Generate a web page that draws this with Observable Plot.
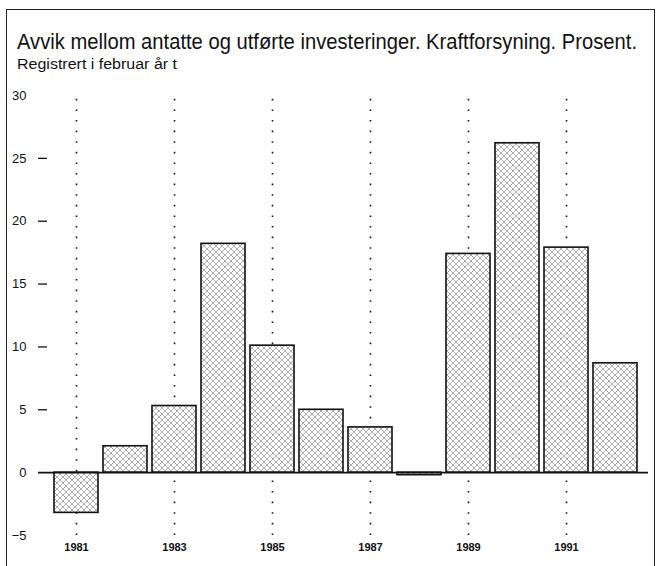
<!DOCTYPE html>
<html>
<head>
<meta charset="utf-8">
<script src="https://cdn.jsdelivr.net/npm/d3@7"></script>
<script src="https://cdn.jsdelivr.net/npm/@observablehq/plot@0.6"></script>
<style>
  html, body { margin: 0; padding: 0; background: #fff; }
  #wrap { position: relative; width: 661px; height: 566px; overflow: hidden; background: #fff; font-family: "Liberation Sans", Arial, Helvetica, sans-serif; color: #111; }
  #frame { position: absolute; left: 6px; top: 9px; width: 649px; height: 620px; border: 1.6px solid #222; border-bottom: none; box-sizing: border-box; }
  #chart { position: absolute; left: 0; top: 0; }
  .t { position: absolute; white-space: nowrap; transform-origin: 0 0; line-height: 1; }
  #title { left: 17px; top: 31px; font-size: 22px; }
  #subtitle { left: 17px; top: 57px; font-size: 14px; }
</style>
</head>
<body>
<div id="wrap">
  <div id="chart"></div>
  <div id="frame"></div>
  <span class="t" id="title">Avvik mellom antatte og utførte investeringer. Kraftforsyning. Prosent.</span>
  <span class="t" id="subtitle">Registrert i februar år t</span>
</div>
<script>
const years = [1981, 1982, 1983, 1984, 1985, 1986, 1987, 1988, 1989, 1990, 1991, 1992];
const values = [-3.2, 2.1, 5.3, 18.2, 10.1, 5.0, 3.6, -0.2, 17.4, 26.2, 17.9, 8.7];
const yearLabels = [1981, 1983, 1985, 1987, 1989, 1991];
const yTicks = [-5, 0, 5, 10, 15, 20, 25, 30];
const yDashTicks = [5, 10, 15, 20, 25];
const yDomain = [-5, 30];

const data = years.map((year, i) => ({year, value: values[i]}));

const chart = Plot.plot({
  width: 661,
  height: 566,
  marginTop: 95,
  marginBottom: 31,
  marginLeft: 38,
  marginRight: 13,
  style: {background: "transparent", fontFamily: "'Liberation Sans', Arial, sans-serif", color: "#111"},
  x: {type: "band", domain: years, range: [49.1, 642], padding: 0.1, label: null},
  y: {domain: yDomain, label: null},
  marks: [
    Plot.ruleX(yearLabels, {x: d => d, y1: yDomain[0], y2: yDomain[1], stroke: "#111", strokeWidth: 1.6, strokeDasharray: "1.6 9"}),
    Plot.barY(data, {x: "year", y: "value", fill: "url(#hatch)", stroke: "#111", strokeWidth: 1.6, inset: 0}),
    Plot.ruleY([0], {stroke: "#111", strokeWidth: 1.6}),
    Plot.axisY({ticks: yTicks, tickSize: 0, tickPadding: 12, fontSize: 13, label: null}),
    Plot.axisY({ticks: yDashTicks, tickSize: 9, dx: 9, tickFormat: () => "", label: null, strokeWidth: 1.3}),
    Plot.axisX({ticks: yearLabels, tickSize: 0, tickPadding: 8, fontSize: 11, fontWeight: "bold", tickFormat: d => String(d), label: null})
  ]
});

const svg = d3.select(chart);
const defs = svg.insert("defs", ":first-child");
const s = 6;
const pat = defs.append("pattern")
  .attr("id", "hatch")
  .attr("patternUnits", "userSpaceOnUse")
  .attr("width", s)
  .attr("height", s);
pat.append("rect").attr("width", s).attr("height", s).attr("fill", "#fff");
pat.append("path")
  .attr("d", `M0,0L${s},${s}M${s},0L0,${s}`)
  .attr("stroke", "#999")
  .attr("stroke-width", 0.8)
  .attr("fill", "none");

document.getElementById("chart").appendChild(chart);

function fit(id, target) {
  const el = document.getElementById(id);
  const w = el.getBoundingClientRect().width;
  el.style.transform = `scaleX(${target / w})`;
}
fit("title", 620);
fit("subtitle", 160);
</script>
</body>
</html>
